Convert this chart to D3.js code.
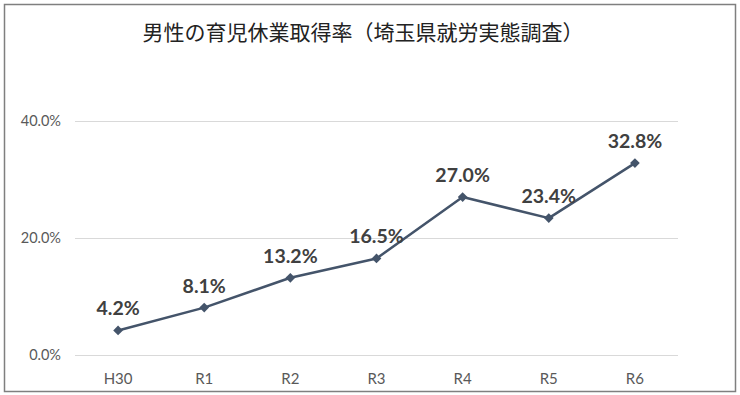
<!DOCTYPE html>
<html>
<head>
<meta charset="utf-8">
<script src="https://cdn.jsdelivr.net/npm/d3@7"></script>
<style>
  body { margin: 0; background: #fff; }
</style>
</head>
<body>
<div id="chart"></div>
<script>
var categories = ['H30', 'R1', 'R2', 'R3', 'R4', 'R5', 'R6'];
var values = [4.2, 8.1, 13.2, 16.5, 27.0, 23.4, 32.8];
var yTicks = [0, 20, 40];
var title = '男性の育児休業取得率（埼玉県就労実態調査）';

var FONT = 'Lato, "Noto Sans", sans-serif';
var w = 740, h = 395;
var margin = { top: 121, right: 62, bottom: 40, left: 75 };
var iw = w - margin.left - margin.right;
var ih = 355 - margin.top;

var svg = d3.select('#chart').append('svg').attr('width', w).attr('height', h);

// Frame
svg.append('rect').attr('x', 4.5).attr('y', 4.5).attr('width', 731).attr('height', 387)
  .attr('fill', '#fff').attr('stroke', '#7f7f7f').attr('stroke-width', 1.5);

svg.append('text').attr('x', 363).attr('y', 40)
  .attr('text-anchor', 'middle').attr('fill', '#222').attr('font-size', '21px')
  .attr('font-family', '"Noto Sans CJK JP", sans-serif')
  .text(title);

var g = svg.append('g').attr('transform', 'translate(' + margin.left + ',' + margin.top + ')');

var xScale = d3.scalePoint().domain(categories).range([0, iw]).padding(0.5);
var yScale = d3.scaleLinear().domain([0, 40]).range([ih, 0]);

// Grid
g.append('g').selectAll('line').data(yTicks).join('line')
  .attr('x1', 0).attr('x2', iw)
  .attr('y1', function(d) { return Math.round(yScale(d)) + 0.5; })
  .attr('y2', function(d) { return Math.round(yScale(d)) + 0.5; })
  .attr('stroke', '#d9d9d9').attr('stroke-width', 1);

// Y axis labels
g.append('g').selectAll('text').data(yTicks).join('text')
  .attr('x', -14).attr('y', function(d) { return yScale(d) + 5; })
  .attr('text-anchor', 'end').attr('fill', '#595959').attr('font-size', '14.5px').attr('font-family', FONT)
  .text(function(d) { return d.toFixed(1) + '%'; });

// X axis labels
g.append('g').selectAll('text').data(categories).join('text')
  .attr('x', function(d) { return xScale(d); }).attr('y', ih + 29)
  .attr('text-anchor', 'middle').attr('fill', '#595959').attr('font-size', '15px').attr('font-family', FONT)
  .text(function(d) { return d; });

// Line
var pts = categories.map(function(c, i) { return { c: c, v: values[i] }; });
var line = d3.line().x(function(d) { return xScale(d.c); }).y(function(d) { return yScale(d.v); });
g.append('path').datum(pts).attr('d', line)
  .attr('fill', 'none').attr('stroke', '#44546a').attr('stroke-width', 2.5).attr('stroke-linejoin', 'round');

g.selectAll('path.mk').data(pts).join('path').attr('class', 'mk')
  .attr('d', d3.symbol().type(d3.symbolDiamond2).size(60))
  .attr('transform', function(d) { return 'translate(' + xScale(d.c) + ',' + yScale(d.v) + ')'; })
  .attr('fill', '#44546a');

// Data labels
g.selectAll('text.lbl').data(pts).join('text').attr('class', 'lbl')
  .attr('x', function(d) { return xScale(d.c); })
  .attr('y', function(d) { return yScale(d.v) - 15; })
  .attr('text-anchor', 'middle').attr('fill', '#404040').attr('font-size', '19.5px').attr('font-weight', 'bold')
  .attr('font-family', FONT)
  .text(function(d) { return d.v.toFixed(1) + '%'; });
</script>
</body>
</html>
